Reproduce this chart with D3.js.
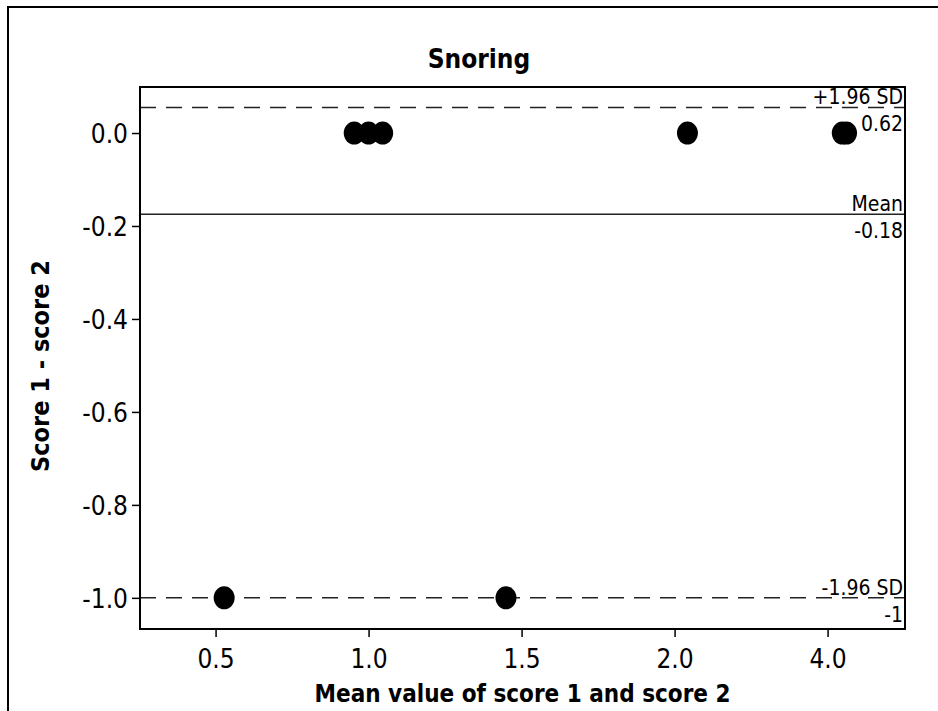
<!DOCTYPE html>
<html>
<head>
<meta charset="utf-8">
<script src="https://cdn.jsdelivr.net/npm/d3@7"></script>
<style>
  body { margin: 0; background: #fff; }
  text { font-family: "DejaVu Sans Condensed", "DejaVu Sans", sans-serif; fill: #000; }
</style>
</head>
<body>
<div id="chart"></div>
<script>
var w = 938;
var h = 711;

// x positions of the points (axis position units) and their differences
var meanValues = [0.528, 0.953, 1.0, 1.046, 1.449, 2.042, 2.548, 2.562];
var diffValues = [-1, 0, 0, 0, -1, 0, 0, 0];

var xTickValues = [0.5, 1.0, 1.5, 2.0, 2.5];
var xTickLabels = ["0.5", "1.0", "1.5", "2.0", "4.0"];
var yTickValues = [0.0, -0.2, -0.4, -0.6, -0.8, -1.0];
var yTickLabels = ["0.0", "-0.2", "-0.4", "-0.6", "-0.8", "-1.0"];

// reference lines: where drawn, upper label, lower label, dashed?
var refValues = [0.055, -0.175, -1.0];
var refNames = ["+1.96 SD", "Mean", "-1.96 SD"];
var refLabels = ["0.62", "-0.18", "-1"];
var refDashed = [true, false, true];

var margin = {top: 87, right: 33, bottom: 82, left: 140};
var iw = w - margin.left - margin.right;
var ih = h - margin.top - margin.bottom;

var x = d3.scaleLinear().domain([0.253, 2.753]).range([0, iw]);
var y = d3.scaleLinear().domain([0.099, -1.067]).range([0, ih]);

var svg = d3.select("#chart")
    .append("svg")
    .attr("width", w)
    .attr("height", h);

// outer frame (cut at right and bottom)
svg.append("path")
    .attr("d", "M8,711 L8,7 L938,7")
    .attr("fill", "none")
    .attr("stroke", "#000")
    .attr("stroke-width", 2);

var g = svg.append("g")
    .attr("transform", "translate(" + margin.left + "," + margin.top + ")");

// axes
var xAxis = d3.axisBottom(x)
    .tickValues(xTickValues)
    .tickFormat(function(d, i) { return xTickLabels[i]; })
    .tickSize(8)
    .tickSizeOuter(0);
var yAxis = d3.axisLeft(y)
    .tickValues(yTickValues)
    .tickFormat(function(d, i) { return yTickLabels[i]; })
    .tickSize(8)
    .tickSizeOuter(0);

var gx = g.append("g")
    .attr("transform", "translate(0," + ih + ")")
    .call(xAxis);
gx.select(".domain").remove();
gx.selectAll("line").attr("stroke", "#000").attr("stroke-width", 1.5);
gx.selectAll("text")
    .attr("font-size", 26)
    .attr("font-family", "DejaVu Sans Condensed, DejaVu Sans, sans-serif")
    .attr("dy", null)
    .attr("y", 39);

var gy = g.append("g").call(yAxis);
gy.select(".domain").remove();
gy.selectAll("line").attr("stroke", "#000").attr("stroke-width", 1.5);
gy.selectAll("text")
    .attr("font-size", 26)
    .attr("font-family", "DejaVu Sans Condensed, DejaVu Sans, sans-serif")
    .attr("x", -12)
    .attr("dy", "0.36em");

// reference lines
g.selectAll(".ref")
    .data(refValues)
    .enter()
    .append("line")
    .attr("class", "ref")
    .attr("x1", 0)
    .attr("x2", iw)
    .attr("y1", function(d) { return y(d); })
    .attr("y2", function(d) { return y(d); })
    .attr("stroke", "#222")
    .attr("stroke-width", 1.5)
    .attr("stroke-dasharray", function(d, i) { return refDashed[i] ? "16,10" : null; });

g.selectAll(".refname")
    .data(refValues)
    .enter()
    .append("text")
    .attr("x", iw - 2)
    .attr("y", function(d) { return y(d) - 3; })
    .attr("text-anchor", "end")
    .attr("font-size", 21)
    .text(function(d, i) { return refNames[i]; });

g.selectAll(".reflabel")
    .data(refValues)
    .enter()
    .append("text")
    .attr("x", iw - 2)
    .attr("y", function(d) { return y(d) + 24; })
    .attr("text-anchor", "end")
    .attr("font-size", 21)
    .text(function(d, i) { return refLabels[i]; });

// points
g.selectAll("ellipse")
    .data(meanValues)
    .enter()
    .append("ellipse")
    .attr("cx", function(d) { return x(d); })
    .attr("cy", function(d, i) { return y(diffValues[i]); })
    .attr("rx", 10.5)
    .attr("ry", 11.5)
    .attr("fill", "#000");

// plot frame
g.append("rect")
    .attr("width", iw)
    .attr("height", ih)
    .attr("fill", "none")
    .attr("stroke", "#000")
    .attr("stroke-width", 2);

// titles
svg.append("text")
    .attr("x", 479)
    .attr("y", 68)
    .attr("text-anchor", "middle")
    .attr("font-size", 26)
    .attr("font-weight", "bold")
    .text("Snoring");

svg.append("text")
    .attr("x", margin.left + iw / 2)
    .attr("y", 702)
    .attr("text-anchor", "middle")
    .attr("font-size", 24)
    .attr("font-weight", "bold")
    .text("Mean value of score 1 and score 2");

svg.append("text")
    .attr("transform", "translate(49," + (margin.top + ih / 2 + 8) + ") rotate(-90)")
    .attr("text-anchor", "middle")
    .attr("font-size", 25)
    .attr("font-weight", "bold")
    .text("Score 1 - score 2");
</script>
</body>
</html>
